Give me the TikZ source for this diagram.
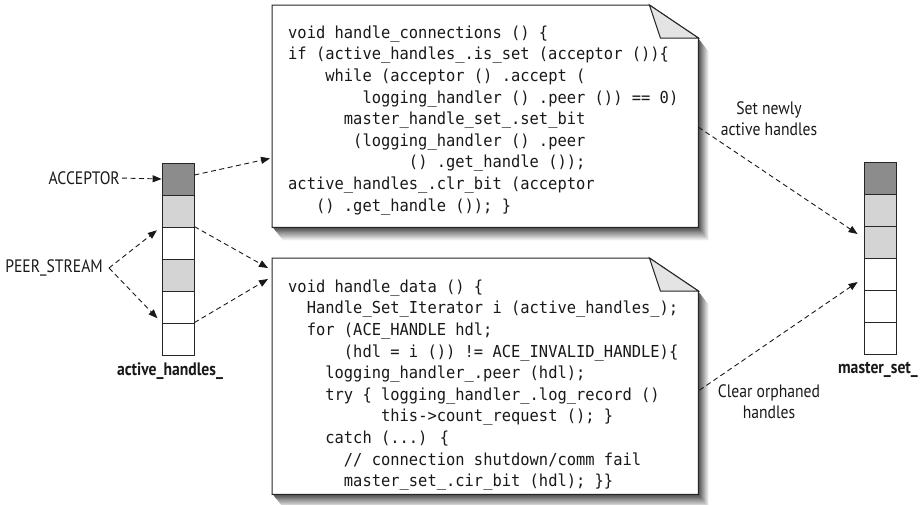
\documentclass[tikz,border=0pt]{standalone}
\usepackage{fontspec}
\newfontfamily\codefont[FakeStretch=0.935]{DejaVu Sans Mono}
\newfontfamily\labelfont[FakeStretch=0.87]{PT Sans}
\usetikzlibrary{arrows.meta,calc}
\definecolor{cellDark}{RGB}{140,140,140}
\definecolor{cellLight}{RGB}{212,212,212}
\definecolor{foldc}{RGB}{228,228,228}
\newlength\cwd
\setlength\cwd{9.29pt}
\newcommand\ind[1]{\hspace*{#1\cwd}}
\tikzset{
  cell/.style={draw=black!85, line width=0.8pt, minimum width=32pt, minimum height=32pt, inner sep=0pt, fill=white},
  dk/.style={fill=cellDark},
  lt/.style={fill=cellLight},
  darr/.style={draw=black!90, line width=0.9pt, dash pattern=on 5pt off 3.5pt, -{Triangle[length=9pt,width=7pt]}},
  lbl/.style={font=\labelfont\fontsize{18}{21}\selectfont, inner sep=0pt, align=center, text=black!90},
  blbl/.style={font=\labelfont\bfseries\fontsize{18}{21}\selectfont, inner sep=0pt, text=black!90},
  code/.style={font=\codefont\fontsize{16.5}{21.6}\selectfont, align=left, inner sep=0pt, anchor=north west, text=black!90},
  boxline/.style={draw=black!85, line width=1pt, line join=miter},
  boxnode/.style={inner sep=0pt, anchor=north west, minimum width=426pt},
}
\begin{document}
\begin{tikzpicture}[x=1pt,y=-1pt]
\useasboundingbox (0,0) rectangle (924,504);
% shadows
\foreach \k in {14,13,...,1}{
  \pgfmathtruncatemacro\c{76-5*\k}
  \fill[black!\c, shift={(0.75*\k,0.95*\k)}] (272,5) -- (649,5) -- (698,38) -- (698,227) -- (272,227) -- cycle;
  \fill[black!\c, shift={(0.75*\k,0.95*\k)}] (272,258) -- (649,258) -- (698,291) -- (698,494) -- (272,494) -- cycle;
}
% boxes
\node[boxnode, minimum height=222pt] (boxA) at (272,5) {};
\node[boxnode, minimum height=236pt] (boxB) at (272,258) {};
\draw[boxline, fill=white] (boxA.north west) -- ($(boxA.north east)+(-49,0)$) coordinate (fa)
  -- ($(boxA.north east)+(0,33)$) coordinate (fra) -- (boxA.south east) -- (boxA.south west) -- cycle;
\draw[boxline, fill=foldc] (fa) -- ($(fa)+(11,33)$) -- (fra) -- cycle;
\draw[boxline, fill=white] (boxB.north west) -- ($(boxB.north east)+(-49,0)$) coordinate (fb)
  -- ($(boxB.north east)+(0,33)$) coordinate (frb) -- (boxB.south east) -- (boxB.south west) -- cycle;
\draw[boxline, fill=foldc] (fb) -- ($(fb)+(11,33)$) -- (frb) -- cycle;
% code
\node[code] (codeA) at (288,25.5) {%
void handle\_connections () \{\\
if (active\_handles\_.is\_set (acceptor ())\{\\
\ind{4}while (acceptor () .accept (\\
\ind{8}logging\_handler () .peer ()) == 0)\\
\ind{6}master\_handle\_set\_.set\_bit\\
\ind{7}(logging\_handler () .peer\\
\ind{13}() .get\_handle ());\\
active\_handles\_.clr\_bit (acceptor\\
\ind{3}() .get\_handle ()); \}};
\node[code] (codeB) at (288,279.5) {%
void handle\_data () \{\\
\ind{2}Handle\_Set\_Iterator i (active\_handles\_);\\
\ind{2}for (ACE\_HANDLE hdl;\\
\ind{6}(hdl = i ()) != ACE\_INVALID\_HANDLE)\{\\
\ind{4}logging\_handler\_.peer (hdl);\\
\ind{4}try \{ logging\_handler\_.log\_record ()\\
\ind{10}this->count\_request (); \}\\
\ind{4}catch (...) \{\\
\ind{6}// connection shutdown/comm fail\\
\ind{6}master\_set\_.cir\_bit (hdl); \}\}};
% left array
\node[cell, dk] (a1) at (178,179) {};
\node[cell, lt] (a2) at (178,211) {};
\node[cell] (a3) at (178,243) {};
\node[cell, lt] (a4) at (178,275) {};
\node[cell] (a5) at (178,307) {};
\node[cell] (a6) at (178,339) {};
\node[blbl] (ahl) at (170,371) {active\_handles\_};
% right array
\node[cell, dk] (m1) at (880,178) {};
\node[cell, lt] (m2) at (880,210) {};
\node[cell, lt] (m3) at (880,242) {};
\node[cell] (m4) at (880,274) {};
\node[cell] (m5) at (880,306) {};
\node[cell] (m6) at (880,338) {};
\node[blbl] (msl) at (878,370) {master\_set\_};
% labels
\node[lbl, anchor=east] (acc) at (120,178) {ACCEPTOR};
\node[lbl, anchor=east] (peer) at (103,268) {PEER\_STREAM};
\node[lbl] (setl) at (769,119) {Set newly\\active handles};
\node[lbl] (clrl) at (769,402) {Clear orphaned\\handles};
% connector end points
\coordinate (pv) at ($(peer.east)+(6,0)$);
\coordinate (inA) at ($(boxA.south west)+(-2,-69)$);
\coordinate (inB1) at ($(boxB.north west)+(-4,10)$);
\coordinate (inB2) at ($(boxB.north west)+(-4,21)$);
\coordinate (outA) at ($(boxA.east)+(0,11)$);
\coordinate (outB) at ($(boxB.east)+(1,14)$);
\coordinate (tS) at ($(m3.west)+(-6,-8)$);
\coordinate (tC) at ($(m4.west)+(-6,8)$);
% connectors
\draw[darr, shorten <=2pt] (acc.east) -- (a1.west);
\draw[darr, shorten >=6pt] (pv) -- (a3.north west);
\draw[darr, shorten >=6pt] (pv) -- (a6.north west);
\draw[darr] ($(a1.east)+(0,-4)$) -- (inA);
\draw[darr] (a3.north east) -- (inB1);
\draw[darr] (a6.north east) -- (inB2);
\draw[darr] (outA) -- (tS);
\draw[darr] (outB) -- (tC);
\end{tikzpicture}
\end{document}
